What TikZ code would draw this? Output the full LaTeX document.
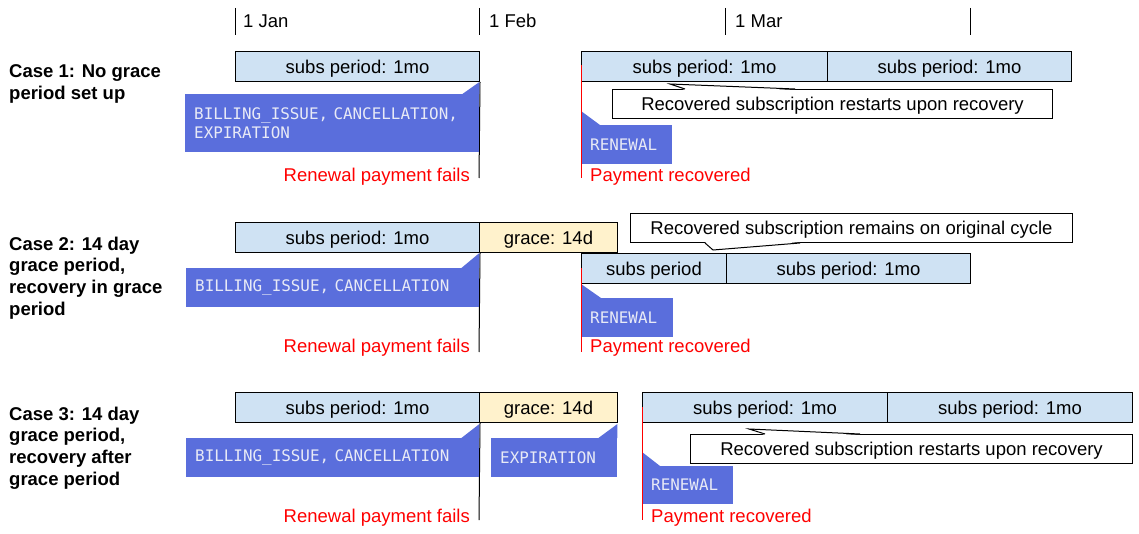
\documentclass[tikz,border=0pt]{standalone}
\usepackage{fontspec}
\setmainfont{Liberation Sans}
\setmonofont{DejaVu Sans Mono}
\usepackage{tikz}
\usetikzlibrary{calc}
\definecolor{subsblue}{HTML}{CFE2F3}
\definecolor{graceyellow}{HTML}{FFF2CC}
\definecolor{evtblue}{HTML}{5A6EDC}
\definecolor{evttext}{HTML}{E8EAF6}
\newcommand{\txtsize}{\fontsize{18.5}{21.7}\selectfont}
\newcommand{\monosize}{\fontsize{15.9}{19}\selectfont\ttfamily}
\tikzstyle{period} = [draw=black, line width=1pt, fill=subsblue, minimum height=30, inner sep=0, text height=13.2, text depth=0, anchor=north west, font=\txtsize]
\tikzstyle{grace} = [period, fill=graceyellow]
\tikzstyle{evt} = [fill=evtblue, text=evttext, inner xsep=9, inner ysep=0, align=left, anchor=north west, font=\monosize]
\tikzstyle{note} = [draw=black, line width=1pt, fill=white, minimum height=29, inner sep=0, text height=13.2, text depth=0, anchor=north west, font=\txtsize]
\tikzstyle{caselbl} = [anchor=west, align=left, inner sep=0, font=\txtsize\bfseries]
\tikzstyle{redlbl} = [text=red, inner sep=0, font=\txtsize]
\tikzstyle{month} = [anchor=west, inner sep=0, font=\txtsize]
\tikzstyle{tick} = [line width=1pt, black]
\tikzstyle{failline} = [line width=1pt, black]
\tikzstyle{okline} = [line width=1pt, red]

\begin{document}
\begin{tikzpicture}[x=1pt, y=-1pt]
    \useasboundingbox (0,0) rectangle (1139,534);

    % month ticks
    \coordinate (jan) at (235,8);
    \coordinate (feb) at (479,8);
    \coordinate (mar) at (725,8);
    \coordinate (apr) at (970,8);
    \draw [tick] (jan) -- ++(0,27);
    \draw [tick] (feb) -- ++(0,27);
    \draw [tick] (mar) -- ++(0,27);
    \draw [tick] (apr) -- ++(0,27);
    \node (janlbl) [month] at (243,21) {1 Jan};
    \node (feblbl) [month] at (489,21) {1 Feb};
    \node (marlbl) [month] at (735,21) {1 Mar};

    % case labels
    \node (case1) [caselbl] at (9,84) {Case 1: No grace\\period set up};
    \node (case2) [caselbl] at (9,278) {Case 2: 14 day\\grace period,\\recovery in grace\\period};
    \node (case3) [caselbl] at (9,448) {Case 3: 14 day\\grace period,\\recovery after\\grace period};

    % ---- case 1 ----
    \coordinate (c1end) at (479,178);
    \coordinate (c1rtop) at (581,65);
    \coordinate (c1rend) at (581,178);
    \node (c1sub) [period, minimum width=244] at (235,51) {subs period: 1mo};
    \draw [failline] (c1sub.south east) -- (c1end);
    \node (c1fail) [evt, text width=276, minimum height=58] at (185,94) {BILLING\_ISSUE, CANCELLATION,\\EXPIRATION};
    \fill [evtblue] (c1fail.north east) -- ++(0,-12) -- ++(-17,12) -- cycle;
    \node (c1failtxt) [redlbl, anchor=east] at (470,177) {Renewal payment fails};
    \node (c1rsubA) [period, minimum width=246] at (581,51) {subs period: 1mo};
    \node (c1rsubB) [period, minimum width=244] at (827,51) {subs period: 1mo};
    \node (c1note) [note, minimum width=440] at (612,89) {Recovered subscription restarts upon recovery};
    \coordinate (c1tip) at (670,84);
    \fill [white] ($(c1note.north west)+(73,1)$) -- (c1tip) -- ($(c1note.north west)+(183,1)$) -- cycle;
    \draw [line width=1pt] ($(c1note.north west)+(73,0)$) -- (c1tip) -- ($(c1note.north west)+(183,0)$);
    \node (c1renew) [evt, text width=73, minimum height=39] at (581,125) {RENEWAL};
    \fill [evtblue] (c1renew.north west) -- ++(0,-14) -- ++(19,14) -- cycle;
    \draw [okline] (c1rtop) -- (c1rend);
    \node (c1oktxt) [redlbl, anchor=west] at (590,177) {Payment recovered};

    % ---- case 2 ----
    \coordinate (c2end) at (479,352);
    \coordinate (c2rtop) at (581,268);
    \coordinate (c2rend) at (581,352);
    \node (c2sub) [period, minimum width=244] at (235,222) {subs period: 1mo};
    \node (c2grace) [grace, minimum width=138] at (479,222) {grace: 14d};
    \draw [failline] (c2sub.south east) -- (c2end);
    \node (c2fail) [evt, text width=275, minimum height=39] at (186,268) {BILLING\_ISSUE, CANCELLATION};
    \fill [evtblue] (c2fail.north east) -- ++(0,-15) -- ++(-18,15) -- cycle;
    \node (c2failtxt) [redlbl, anchor=east] at (470,348) {Renewal payment fails};
    \node (c2note) [note, minimum width=442] at (630,213) {Recovered subscription remains on original cycle};
    \coordinate (c2tip) at (713,250);
    \fill [white] ($(c2note.south west)+(75,-1)$) -- (c2tip) -- ($(c2note.south west)+(170,-1)$) -- cycle;
    \draw [line width=1pt] ($(c2note.south west)+(75,0)$) -- (c2tip) -- ($(c2note.south west)+(170,0)$);
    \node (c2rsubA) [period, minimum width=145] at (581,253) {subs period};
    \node (c2rsubB) [period, minimum width=244] at (726,253) {subs period: 1mo};
    \node (c2renew) [evt, text width=74, minimum height=39] at (581,298) {RENEWAL};
    \fill [evtblue] (c2renew.north west) -- ++(0,-14) -- ++(20,14) -- cycle;
    \draw [okline] (c2rtop) -- (c2rend);
    \node (c2oktxt) [redlbl, anchor=west] at (590,348) {Payment recovered};

    % ---- case 3 ----
    \coordinate (c3end) at (479,520);
    \coordinate (c3rtop) at (642,407);
    \coordinate (c3rend) at (642,520);
    \node (c3sub) [period, minimum width=244] at (235,392) {subs period: 1mo};
    \node (c3grace) [grace, minimum width=138] at (479,392) {grace: 14d};
    \draw [failline] (c3sub.south east) -- (c3end);
    \node (c3fail) [evt, text width=275, minimum height=39] at (186,438) {BILLING\_ISSUE, CANCELLATION};
    \fill [evtblue] (c3fail.north east) -- ++(0,-14) -- ++(-18,14) -- cycle;
    \node (c3expire) [evt, text width=108, minimum height=39] at (491,438) {EXPIRATION};
    \fill [evtblue] (c3expire.north east) -- ++(0,-14) -- ++(-19,14) -- cycle;
    \node (c3failtxt) [redlbl, anchor=east] at (470,518) {Renewal payment fails};
    \node (c3rsubA) [period, minimum width=245] at (642,392) {subs period: 1mo};
    \node (c3rsubB) [period, minimum width=245] at (887,392) {subs period: 1mo};
    \node (c3note) [note, minimum width=442] at (690,434) {Recovered subscription restarts upon recovery};
    \coordinate (c3tip) at (749,429);
    \fill [white] ($(c3note.north west)+(75,1)$) -- (c3tip) -- ($(c3note.north west)+(170,1)$) -- cycle;
    \draw [line width=1pt] ($(c3note.north west)+(75,0)$) -- (c3tip) -- ($(c3note.north west)+(170,0)$);
    \node (c3renew) [evt, text width=73, minimum height=38] at (642,466) {RENEWAL};
    \fill [evtblue] (c3renew.north west) -- ++(0,-14) -- ++(18,14) -- cycle;
    \draw [okline] (c3rtop) -- (c3rend);
    \node (c3oktxt) [redlbl, anchor=west] at (651,518) {Payment recovered};
\end{tikzpicture}
\end{document}
